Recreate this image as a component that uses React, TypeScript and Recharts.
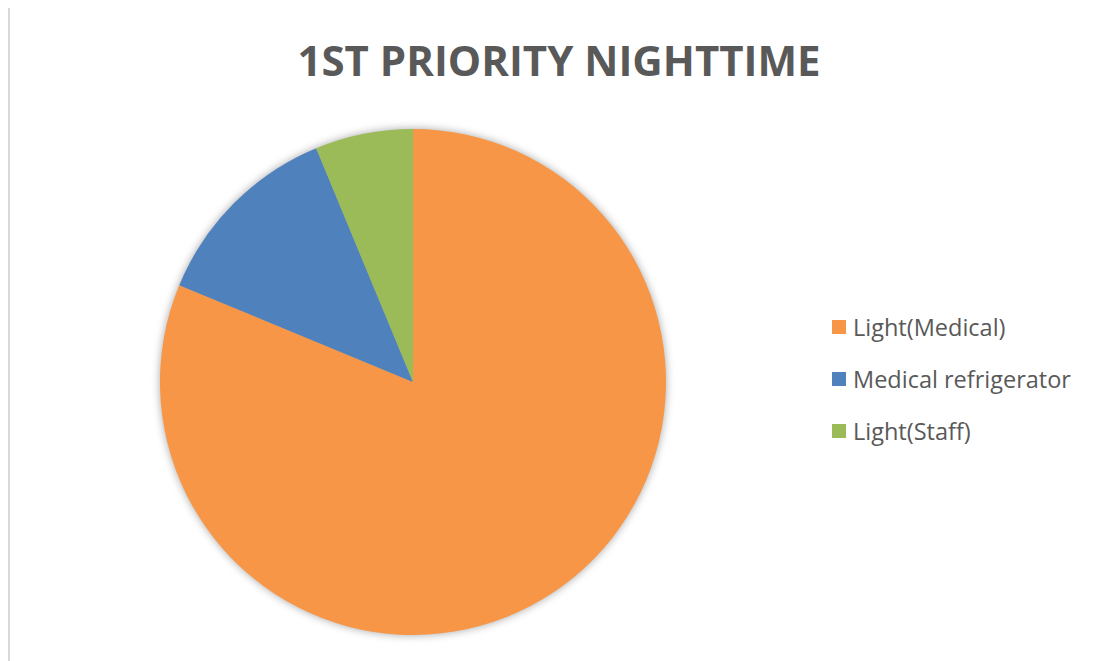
import { PieChart, Pie, Cell, Legend } from "recharts";

const categories = ["Light(Medical)", "Medical refrigerator", "Light(Staff)"];
const values = [13, 2, 1];
const COLORS = ["#F79646", "#4F81BD", "#9BBB59"];

const data = categories.map((name, i) => ({ name, value: values[i] }));

const FONT = "'Open Sans', 'DejaVu Sans', sans-serif";

// keep the legend in the data order (recharts sorts it otherwise)
function renderLegend() {
  return (
    <div style={{ fontFamily: FONT }}>
      {categories.map((name, i) => (
        <div key={name} style={{ display: "flex", alignItems: "center", height: 52 }}>
          <span
            style={{
              display: "inline-block",
              width: 14,
              height: 14,
              background: COLORS[i % COLORS.length],
              marginRight: 7,
            }}
          />
          <span style={{ fontSize: 23.5, color: "#595959" }}>{name}</span>
        </div>
      ))}
    </div>
  );
}

export default function App() {
  return (
    <div
      style={{
        position: "relative",
        width: 1093,
        height: 653,
        marginTop: -2,
        borderTop: "2px solid #d9d9d9",
        borderLeft: "2px solid #d9d9d9",
        overflow: "hidden",
      }}
    >
      <style>{".recharts-pie{filter:drop-shadow(0 0 4px rgba(0,0,0,0.35));}"}</style>
      <div
        style={{
          position: "absolute",
          left: -2,
          top: 24,
          width: 1102,
          textAlign: "center",
          fontFamily: FONT,
          fontWeight: 700,
          fontSize: 42,
          color: "#595959",
          lineHeight: "56px",
        }}
      >
        1ST PRIORITY NIGHTTIME
      </div>
      <PieChart width={1093} height={653}>
        <Pie
          data={data}
          dataKey="value"
          nameKey="name"
          cx={398}
          cy={369}
          outerRadius={253}
          startAngle={90}
          endAngle={-270}
          stroke="none"
          isAnimationActive={false}
        >
          {data.map((d, i) => (
            <Cell key={d.name} fill={COLORS[i % COLORS.length]} />
          ))}
        </Pie>
        <Legend
          content={renderLegend}
          wrapperStyle={{ position: "absolute", left: 822, top: 293, width: 270 }}
        />
      </PieChart>
    </div>
  );
}
